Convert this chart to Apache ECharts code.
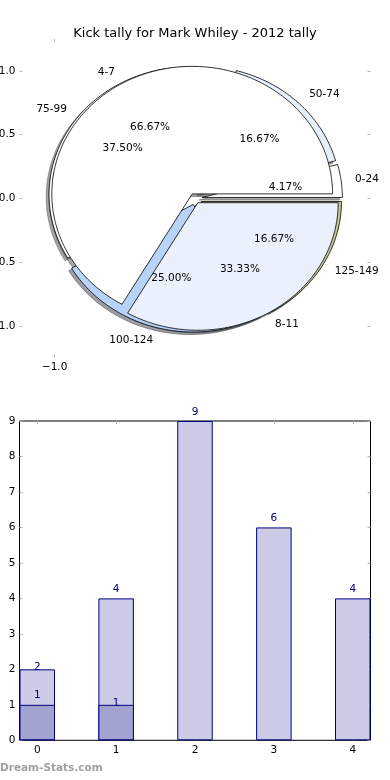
<!DOCTYPE html>
<html><head><meta charset="utf-8">
<script src="https://cdn.jsdelivr.net/npm/echarts@6/dist/echarts.min.js"></script>
<style>html,body{margin:0;padding:0;background:#fff}#c{width:390px;height:780px}</style>
</head><body><div id="c"></div>
<script>
// ---------- data ----------
const titleText = 'Kick tally for Mark Whiley - 2012 tally';
const innerLabels = ['4-7', '8-11'];
const innerValues = [2, 1];
const outerLabels = ['0-24', '50-74', '75-99', '100-124', '125-149'];
const outerValues = [1, 4, 9, 6, 4];
const pieYTicks = [-1, -0.5, 0, 0.5, 1];
const pieXTicks = [-1];
const barCategories = [0, 1, 2, 3, 4];
const barLight = [2, 4, 9, 6, 4];
const barDark = [1, 1, 0, 0, 0];
const barYMax = 9;
const watermark = 'Dream-Stats.com';

// ---------- styles ----------
const FONT = 'DejaVu Sans';
const TICK = '#b4b4b4';
const innerColors = ['#ffffff', '#ebf1fc'];
const outerColors = ['#ffffff', '#e6effc', '#ffffff', '#b7d3f7', '#c4ca92'];
const innerExplode = 0.04, outerExplode = 0.05;
const SHADOW_OFF = -0.02;
const lightLabelDist = [-3.5, 3.5, 3, 3.5, 3.5];
const darkLabelDist = [4, -4];
const barWidthUnits = 0.45;
const barXMin = -0.225, barXMax = 4.225;
const gridLeft = 19.5, gridRight = 19.5;
const gridW = 390 - gridLeft - gridRight;

function makeSlices(values, explode) {
  const total = values.reduce((a, b) => a + b, 0);
  let acc = 0;
  return values.map(v => {
    const a1 = acc / total * 360; acc += v; const a2 = acc / total * 360;
    const mid = (a1 + a2) / 2 * Math.PI / 180;
    return { a1, a2, v, total, mid, ox: explode * Math.cos(mid), oy: explode * Math.sin(mid) };
  });
}
const innerSlices = makeSlices(innerValues, innerExplode);
const outerSlices = makeSlices(outerValues, outerExplode);

function wedgePoints(api, s, d) {
  const cx = s.ox + d, cy = s.oy + d;
  const pts = [api.coord([cx, cy])];
  const n = Math.max(2, Math.ceil((s.a2 - s.a1) / 1));
  for (let k = 0; k <= n; k++) {
    const t = (s.a1 + (s.a2 - s.a1) * k / n) * Math.PI / 180;
    pts.push(api.coord([cx + Math.cos(t), cy + Math.sin(t)]));
  }
  return pts;
}
function darken(hex) {
  const r = parseInt(hex.slice(1, 3), 16), g = parseInt(hex.slice(3, 5), 16), b = parseInt(hex.slice(5, 7), 16);
  return 'rgb(' + Math.round(r * 0.3) + ',' + Math.round(g * 0.3) + ',' + Math.round(b * 0.3) + ')';
}
function wedgeSeries(values, slices, colors, shadow, z) {
  return {
    type: 'custom', xAxisIndex: 0, yAxisIndex: 0, z, silent: true, clip: false,
    data: values.map((v, i) => [i, v]),
    renderItem: (params, api) => {
      const i = params.dataIndex, s = slices[i];
      if (shadow) {
        const sc = darken(colors[i]);
        return { type: 'polygon', shape: { points: wedgePoints(api, s, SHADOW_OFF) },
          style: { fill: sc, stroke: sc, lineWidth: 1, opacity: 0.5 } };
      }
      return { type: 'polygon', shape: { points: wedgePoints(api, s, 0) },
        style: { fill: colors[i], stroke: '#000', lineWidth: 0.8 } };
    }
  };
}
function textSeries(values, slices, labels, z) {
  return {
    type: 'custom', xAxisIndex: 0, yAxisIndex: 0, z, silent: true, clip: false,
    data: values.map((v, i) => [i, v]),
    renderItem: (params, api) => {
      const i = params.dataIndex, s = slices[i];
      const c = Math.cos(s.mid), sn = Math.sin(s.mid);
      const lp = api.coord([s.ox + 1.1 * c, s.oy + 1.1 * sn]);
      const pp = api.coord([s.ox + 0.6 * c, s.oy + 0.6 * sn]);
      const pct = (api.value(1) / s.total * 100).toFixed(2) + '%';
      return { type: 'group', children: [
        { type: 'text', style: { text: labels[i], x: lp[0], y: lp[1], align: c > 0 ? 'left' : 'right',
          verticalAlign: 'middle', fontSize: 10.5, fontFamily: FONT, fill: '#000' } },
        { type: 'text', style: { text: pct, x: pp[0], y: pp[1], align: 'center',
          verticalAlign: 'middle', fontSize: 10.5, fontFamily: FONT, fill: '#000' } }
      ] };
    }
  };
}
const fmtPie = v => (v < 0 ? '\u2212' : '') + Math.abs(v).toFixed(1);
const lbl = { fontSize: 10.5, fontFamily: FONT, color: '#000' };
const tick = (vals) => ({ show: true, inside: true, length: 3, customValues: vals, lineStyle: { color: TICK, width: 1 } });
const noLine = { show: false, onZero: false };

const option = {
  animation: false,
  backgroundColor: '#fff',
  title: { text: titleText, left: 'center', top: 22, textStyle: { fontSize: 13, fontWeight: 'normal', fontFamily: FONT, color: '#000' } },
  graphic: [{ type: 'text', left: 0, top: 763, style: { text: watermark, fontSize: 10.5, fontWeight: 'bold', fontFamily: FONT, fill: '#a0a0a0' } }],
  grid: [
    { left: gridLeft, right: gridRight, top: 38.9, bottom: 422.3, show: false, outerBoundsMode: 'none', containLabel: false },
    { left: gridLeft, right: gridRight, top: 421, bottom: 39.7, show: true, borderColor: '#000', borderWidth: 1, backgroundColor: 'rgba(0,0,0,0)', outerBoundsMode: 'none', containLabel: false }
  ],
  xAxis: [
    { gridIndex: 0, type: 'value', min: -1.25, max: 1.25, position: 'bottom', axisLine: noLine, splitLine: { show: false },
      axisTick: tick(pieXTicks), axisLabel: Object.assign({ customValues: pieXTicks, formatter: fmtPie, margin: 4 }, lbl) },
    { gridIndex: 0, type: 'value', min: -1.25, max: 1.25, position: 'top', axisLine: noLine, splitLine: { show: false },
      axisTick: tick(pieXTicks), axisLabel: { show: false } },
    { gridIndex: 1, type: 'value', min: barXMin, max: barXMax, position: 'bottom', axisLine: noLine, splitLine: { show: false },
      axisTick: tick(barCategories), axisLabel: Object.assign({ customValues: barCategories, margin: 4 }, lbl) },
    { gridIndex: 1, type: 'value', min: barXMin, max: barXMax, position: 'top', axisLine: noLine, splitLine: { show: false },
      axisTick: tick(barCategories), axisLabel: { show: false } }
  ],
  yAxis: [
    { gridIndex: 0, type: 'value', min: -1.25, max: 1.25, position: 'left', axisLine: noLine, splitLine: { show: false },
      axisTick: tick(pieYTicks), axisLabel: Object.assign({ customValues: pieYTicks, formatter: fmtPie, margin: 4 }, lbl) },
    { gridIndex: 0, type: 'value', min: -1.25, max: 1.25, position: 'right', axisLine: noLine, splitLine: { show: false },
      axisTick: tick(pieYTicks), axisLabel: { show: false } },
    { gridIndex: 1, type: 'value', min: 0, max: barYMax, interval: 1, position: 'left', axisLine: noLine, splitLine: { show: false },
      axisTick: { show: true, inside: true, length: 3, lineStyle: { color: TICK } }, axisLabel: Object.assign({ margin: 4 }, lbl) },
    { gridIndex: 1, type: 'value', min: 0, max: barYMax, interval: 1, position: 'right', axisLine: noLine, splitLine: { show: false },
      axisTick: { show: true, inside: true, length: 3, lineStyle: { color: TICK } }, axisLabel: { show: false } }
  ],
  series: [
    wedgeSeries(outerValues, outerSlices, outerColors, true, 1),
    wedgeSeries(innerValues, innerSlices, innerColors, true, 1),
    wedgeSeries(outerValues, outerSlices, outerColors, false, 2),
    wedgeSeries(innerValues, innerSlices, innerColors, false, 3),
    textSeries(outerValues, outerSlices, outerLabels, 4),
    textSeries(innerValues, innerSlices, innerLabels, 4),
    {
      type: 'bar', xAxisIndex: 2, yAxisIndex: 2, barWidth: barWidthUnits * gridW / (barXMax - barXMin), barGap: '-100%', z: 2,
      itemStyle: { color: '#cccce6', borderColor: '#000080', borderWidth: 1 },
      label: { show: true, position: 'top', color: '#000080', fontSize: 10.5, fontFamily: FONT },
      data: barLight.map((v, i) => ({ value: [barCategories[i], v], label: { distance: lightLabelDist[i] } }))
    },
    {
      type: 'bar', xAxisIndex: 2, yAxisIndex: 2, barWidth: barWidthUnits * gridW / (barXMax - barXMin), barGap: '-100%', z: 3,
      itemStyle: { color: '#a3a3cf', borderColor: '#000080', borderWidth: 1 },
      label: { show: true, position: 'top', color: '#000080', fontSize: 10.5, fontFamily: FONT },
      data: barDark.map((v, i) => ({ v, i })).filter(o => o.v > 0)
        .map(o => ({ value: [barCategories[o.i], o.v], label: { distance: darkLabelDist[o.i] } }))
    }
  ]
};
option.series.forEach(s => { if (s.type === 'bar') s.label.formatter = p => String(p.value[1]); });
const chart = echarts.init(document.getElementById('c'));
chart.setOption(option);
</script></body></html>
